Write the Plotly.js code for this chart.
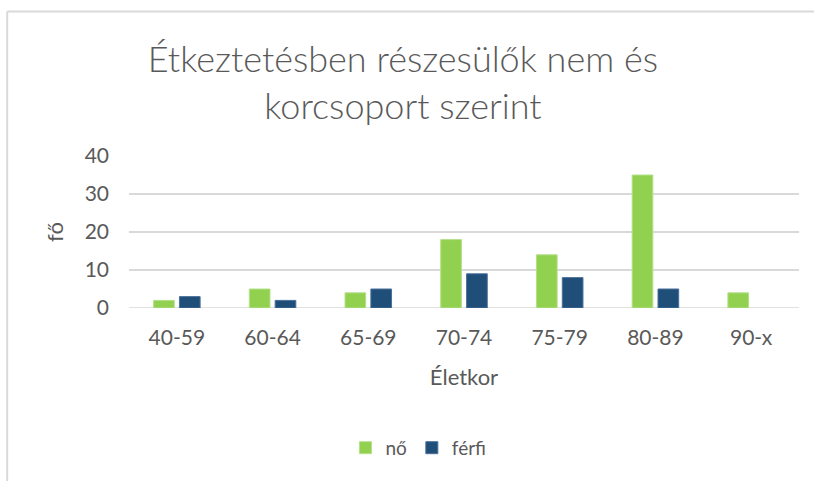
<!DOCTYPE html>
<html>
<head>
<meta charset="utf-8">
<script src="https://cdn.plot.ly/plotly-3.0.1.min.js"></script>
<style>html,body{margin:0;padding:0;background:#fff;}#chart{width:814px;height:481px;}</style>
</head>
<body>
<div id="chart"></div>
<script>
var categories = ["40-59", "60-64", "65-69", "70-74", "75-79", "80-89", "90-x"];
var noValues = [2, 5, 4, 18, 14, 35, 4];
var ferfiValues = [3, 2, 5, 9, 8, 5, null];
var yTicks = [0, 10, 20, 30, 40];

var FONT = "Lato, 'Open Sans', sans-serif";
var traces = [
  {type: "bar", name: "nő", x: categories, y: noValues,
   marker: {color: "#92d050", line: {color: "#b4e08a", width: 1}}},
  {type: "bar", name: "férfi", x: categories, y: ferfiValues,
   marker: {color: "#1f4e79", line: {color: "#4a7198", width: 1}}}
];

var layout = {
  width: 814, height: 481,
  margin: {l: 129, r: 15, t: 156, b: 173},
  paper_bgcolor: "#fff", plot_bgcolor: "#fff",
  font: {family: FONT, color: "#595959"},
  barmode: "group", bargap: 0.46, bargroupgap: 0.2,
  showlegend: true,
  title: {text: "Étkeztetésben részesülők nem és<br>korcsoport szerint",
          font: {family: FONT, size: 36, weight: 300, color: "#595959"},
          x: 0.495, xanchor: "center", y: 0.85, yanchor: "middle", xref: "container", yref: "container"},
  xaxis: {type: "category", showgrid: false, zeroline: false, showline: false,
          ticks: "", tickfont: {size: 21, color: "#595959"}, ticklabelstandoff: 15,
          title: {text: "Életkor", font: {size: 22, color: "#595959"}, standoff: 21}},
  yaxis: {range: [0, 40], tickvals: yTicks, showgrid: true, gridcolor: "#d9d9d9", gridwidth: 1.5,
          zeroline: false, showline: false, ticks: "", tickfont: {size: 21, color: "#595959"},
          ticklabelstandoff: 19,
          title: {text: "fő", font: {size: 22, color: "#595959"}, standoff: 14}},
  legend: {orientation: "h", x: 0.432, xanchor: "center", y: -0.92, yanchor: "middle",
           font: {size: 19, color: "#595959"}, itemwidth: 30, traceorder: "normal"},
  shapes: [
    {type: "line", xref: "paper", yref: "paper", x0: -0.1818, x1: 1.03, y0: 1.9507, y1: 1.9507,
     line: {color: "#d9d9d9", width: 2}},
    {type: "line", xref: "paper", yref: "paper", x0: -0.1818, x1: -0.1818, y0: 1.9507, y1: -1.2,
     line: {color: "#d9d9d9", width: 2}},
    {type: "line", xref: "paper", yref: "y", x0: 0, x1: 1, y0: 0, y1: 0,
     line: {color: "#d9d9d9", width: 1.5}, layer: "below"}
  ]
};

Plotly.newPlot("chart", traces, layout, {displayModeBar: false, staticPlot: true});
</script>
</body>
</html>
